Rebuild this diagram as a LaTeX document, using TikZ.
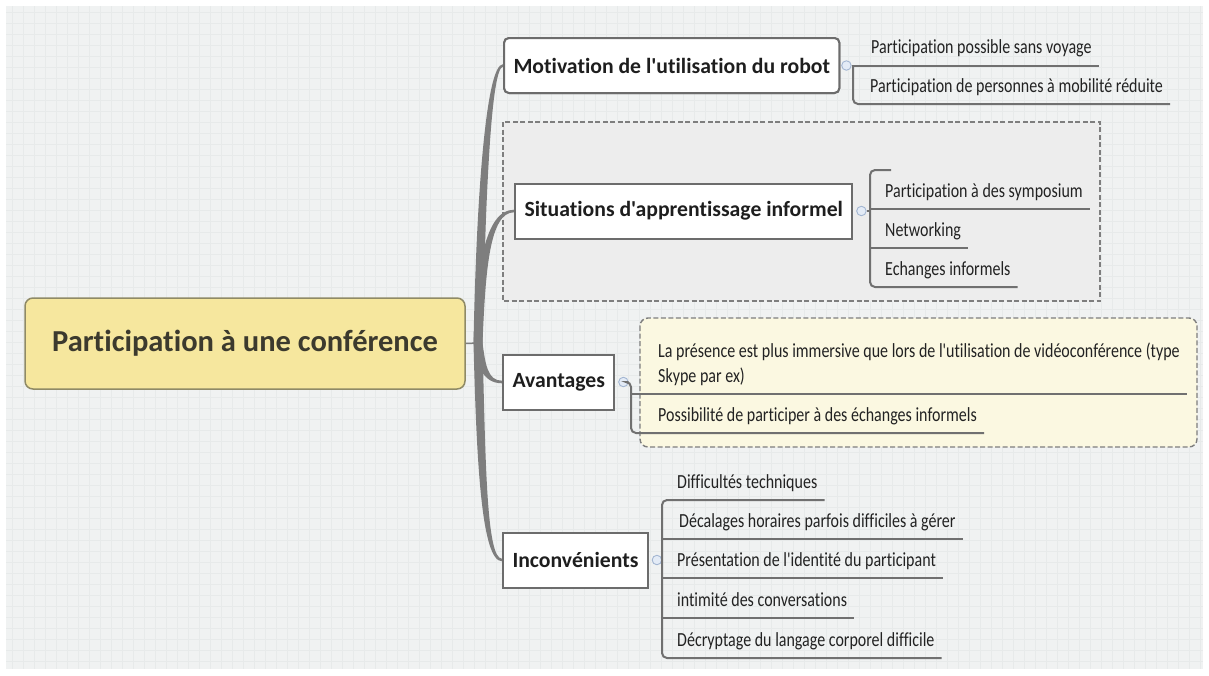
\documentclass[tikz,border=0pt]{standalone}
\usepackage{fontspec}
\setmainfont{Carlito}
\newfontfamily\cfont[Ligatures=NoCommon]{Carlito}
\newfontfamily\leaffont[FakeStretch=0.8,Ligatures=NoCommon]{Carlito}
\usetikzlibrary{calc}
\definecolor{bgc}{HTML}{F0F2F2}
\definecolor{gridc}{HTML}{E7EAEA}
\definecolor{rootc}{HTML}{F6E79E}
\definecolor{rootb}{HTML}{8F8A66}
\definecolor{roott}{HTML}{3C3A2E}
\definecolor{brd}{HTML}{6C6C6C}
\definecolor{branchc}{HTML}{1E1E1E}
\definecolor{leafc}{HTML}{222222}
\definecolor{connc}{HTML}{707070}
\definecolor{trunkc}{HTML}{7E7E7E}
\definecolor{grpgrey}{HTML}{EDEDED}
\definecolor{grpyel}{HTML}{FBF8E1}
\definecolor{grpb}{HTML}{7E7E7E}
\definecolor{togb}{HTML}{A3B6D2}
\definecolor{togf}{HTML}{E3EBF6}
\tikzset{
  rootbox/.style={draw=rootb, line width=1.5pt, fill=rootc, rounded corners=8pt,
    minimum width=440pt, minimum height=91pt, inner sep=0pt, text=roott,
    font=\cfont\bfseries\fontsize{30.5}{36}\selectfont},
  branch/.style={draw=brd, line width=2pt, fill=white, inner xsep=9.5pt, inner ysep=0pt,
    minimum height=55pt, anchor=west, text=branchc,
    font=\cfont\bfseries\fontsize{21.7}{26}\selectfont},
  toggle/.style={circle, draw=togb, fill=togf, line width=0.9pt, minimum size=9.5pt, inner sep=0pt},
  leaf/.style={anchor=south west, inner sep=0pt, text depth=11.5pt, text height=14pt,
    font=\leaffont\fontsize{20}{25}\selectfont, text=leafc,
    execute at begin node={\hspace*{#1}}, execute at end node={\hspace*{7pt}}},
  leaf/.default=16pt,
  conn/.style={draw=connc, line width=2pt},
  trunk/.style={fill=trunkc},
  gridline/.style={draw=gridc, line width=0.5pt},
  grpg/.style={draw=grpb, fill=grpgrey, line width=1.4pt, dash pattern=on 5pt off 2.5pt},
  grpy/.style={draw=grpb, fill=grpyel, line width=1.4pt, dash pattern=on 5pt off 2.5pt, rounded corners=8pt}
}
% tapered trunk curve from (hub) to the west side of node #1
% #2, #3: x offsets of the control points, #4: +1 up / -1 down
\newcommand\trunkto[4]{%
  \fill[trunk] let \p1=(hub), \p2=(#1.west) in
   ({\x1-4.5pt},{\y1}) .. controls ({\x1+#2pt-4.5pt},{\y1+0.55*(\y2-\y1)}) and ({\x1+#3pt-2.5pt},{\y2+(#4)*1.3pt}) .. ({\x2},{\y2+(#4)*1.3pt})
   -- ({\x2},{\y2-(#4)*1.3pt}) .. controls ({\x1+#3pt+2.5pt},{\y2-(#4)*1.3pt}) and ({\x1+#2pt+4.5pt},{\y1+0.55*(\y2-\y1)}) .. ({\x1+4.5pt},{\y1}) -- cycle;}
\begin{document}
\begin{tikzpicture}[x=1pt,y=-1pt]
\useasboundingbox (0,0) rectangle (1209,675);
\fill[white] (0,0) rectangle (1209,675);
\fill[bgc] (6,6) rectangle (1203,669);
\foreach \gx in {12,23,...,1200} \draw[gridline] (\gx,6) -- (\gx,669);
\foreach \gy in {12,23,...,666} \draw[gridline] (6,\gy) -- (1203,\gy);

% group boxes
\draw[grpg] (503,122) rectangle (1100,301);
\draw[grpy] (640,318) rectangle (1197,447);

% root and branches
\node[rootbox] (root) at (245,343.5) {Participation à une conférence};
\coordinate (hub) at (478,343);
\node[branch, rounded corners=5pt] (mot) at (503,65.5) {Motivation de l'utilisation du robot};
\node[branch] (sit) at (514,211) {Situations d'apprentissage informel};
\node[branch] (ava) at (502,382) {Avantages};
\node[branch] (inc) at (502,560) {Inconvénients};

% trunk
\draw[draw=trunkc, line width=1.5pt] (root.east) -- (hub);
\trunkto{mot}{3}{11}{1}
\trunkto{sit}{3}{9}{1}
\trunkto{ava}{3}{7}{-1}
\trunkto{inc}{3}{6}{-1}
% branch boxes drawn again over the trunk ends
\node[branch, rounded corners=5pt] at (mot.west) {Motivation de l'utilisation du robot};
\node[branch] at (sit.west) {Situations d'apprentissage informel};
\node[branch] at (ava.west) {Avantages};
\node[branch] at (inc.west) {Inconvénients};

% toggles
\node[toggle] (motT) at ([xshift=6pt]mot.east) {};
\node[toggle] (sitT) at ([xshift=8pt]sit.east) {};
\node[toggle] (avaT) at ([xshift=8pt]ava.east) {};
\node[toggle] (incT) at ([xshift=8pt]inc.east) {};

% Motivation children
\node[leaf=18pt] (m1) at (853,65.5) {Participation possible sans voyage};
\node[leaf=17pt] (m2) at (853,104) {Participation de personnes à mobilité réduite};
\draw[conn] (motT.east) -- (m1.south west);
\draw[conn] (m1.south west) -- (m1.south east);
\draw[conn, rounded corners=5pt] (m1.south west) |- (m2.south east);

% Situations children
\coordinate (stub) at (891,170);
\node[leaf=15pt] (s1) at (870,209) {Participation à des symposium};
\node[leaf=15pt] (s2) at (870,248) {Networking};
\node[leaf=15pt] (s3) at (870,287) {Echanges informels};
\draw[conn, rounded corners=5pt] (stub) -| (s3.south west) -- (s3.south east);
\draw[conn] (s1.south west) -- (s1.south east);
\draw[conn] (s2.south west) -- (s2.south east);
\draw[conn] (sitT.east) -- (sitT.east -| s1.south west);

% Avantages children
\node[leaf=27pt] (a1) at (631,394) {\begin{tabular}[b]{@{}l@{}}La présence est plus immersive que lors de l'utilisation de vidéoconférence (type\\Skype par ex)\end{tabular}};
\node[leaf=27pt] (a2) at (631,433) {Possibilité de participer à des échanges informels};
\draw[conn, rounded corners=5pt] (avaT.east) -| (a2.south west) -- (a2.south east);
\draw[conn] (a1.south west) -- (a1.south east);

% Inconvenients children
\node[leaf=15pt] (i1) at (662,500) {Difficultés techniques};
\node[leaf=17pt] (i2) at (662,539) {Décalages horaires parfois difficiles à gérer};
\node[leaf=15pt] (i3) at (662,578) {Présentation de l'identité du participant};
\node[leaf=15pt] (i4) at (662,618) {intimité des conversations};
\node[leaf=15pt] (i5) at (662,658) {Décryptage du langage corporel difficile};
\draw[conn, rounded corners=5pt] (i1.south east) -| (i5.south west) -- (i5.south east);
\draw[conn] (i2.south west) -- (i2.south east);
\draw[conn] (i3.south west) -- (i3.south east);
\draw[conn] (i4.south west) -- (i4.south east);
\draw[conn] (incT.east) -- (incT.east -| i1.south west);
\end{tikzpicture}
\end{document}
